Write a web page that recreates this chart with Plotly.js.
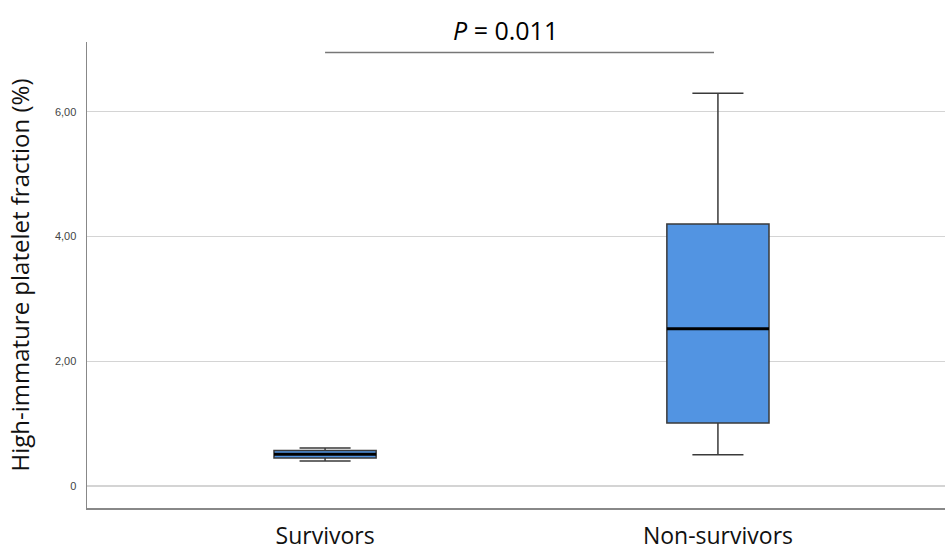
<!DOCTYPE html>
<html><head><meta charset="utf-8">
<script src="https://cdn.plot.ly/plotly-3.0.1.min.js"></script>
<style>body{margin:0;background:#fff}</style></head>
<body><div id="chart" style="width:945px;height:550px"></div>
<script>
const categories = ["Survivors", "Non-survivors"];
const lowerWhisker = [0.40, 0.50];
const q1 = [0.45, 1.01];
const median = [0.51, 2.52];
const q3 = [0.57, 4.20];
const upperWhisker = [0.61, 6.30];
const yTickValues = [0, 2, 4, 6];
const yTickLabels = ["0", "2,00", "4,00", "6,00"];
const pValueText = "<i>P</i> = 0.011";
const bracketY = 6.95;

const boxWidth = 0.26;

const trace = {
  type: 'box',
  x: categories,
  q1: q1, median: median, q3: q3,
  lowerfence: lowerWhisker, upperfence: upperWhisker,
  width: boxWidth,
  whiskerwidth: 0.5,
  fillcolor: '#5294e2',
  line: {color: '#3a3a3a', width: 1.5},
  boxpoints: false,
  showlegend: false
};

const shapes = median.map((m, i) => ({
  type: 'line', xref: 'x', yref: 'y',
  x0: i - boxWidth / 2, x1: i + boxWidth / 2, y0: m, y1: m,
  line: {color: '#000', width: 3}
}));
shapes.push({
  type: 'line', xref: 'x', yref: 'y',
  x0: 0, x1: 0.99, y0: bracketY, y1: bracketY,
  line: {color: '#777', width: 1.5}
});

const layout = {
  width: 945, height: 550,
  margin: {l: 87, r: 0, t: 42, b: 42},
  paper_bgcolor: '#fff', plot_bgcolor: '#fff',
  font: {family: 'Open Sans, sans-serif', color: '#000'},
  xaxis: {
    type: 'category',
    range: [-0.606, 1.578],
    showline: true, linecolor: '#888', linewidth: 1.5,
    showgrid: false, ticks: '',
    tickfont: {size: 23, color: '#111', family: 'Open Sans, sans-serif'},
    ticklabelstandoff: 7
  },
  yaxis: {
    range: [-0.353, 7.12],
    tickvals: yTickValues, ticktext: yTickLabels,
    showline: true, linecolor: '#888', linewidth: 1.5,
    showgrid: true, gridcolor: '#d4d4d4', gridwidth: 1.2,
    zeroline: false, ticks: '',
    tickfont: {size: 11, color: '#444', family: 'Liberation Sans, Arial, sans-serif'},
    ticklabelstandoff: 7,
    title: {text: 'High-immature platelet fraction (%)', font: {size: 24, color: '#111', family: 'Open Sans, sans-serif'}, standoff: 18}
  },
  shapes: shapes,
  annotations: [{
    text: pValueText, xref: 'paper', yref: 'paper', x: (505 - 87) / 858, y: (508 - 30) / 466,
    showarrow: false, xanchor: 'center', yanchor: 'middle',
    font: {size: 25, color: '#000', family: 'Open Sans, sans-serif'}
  }]
};

Plotly.newPlot('chart', [trace], layout, {displayModeBar: false, staticPlot: true});
</script></body></html>
